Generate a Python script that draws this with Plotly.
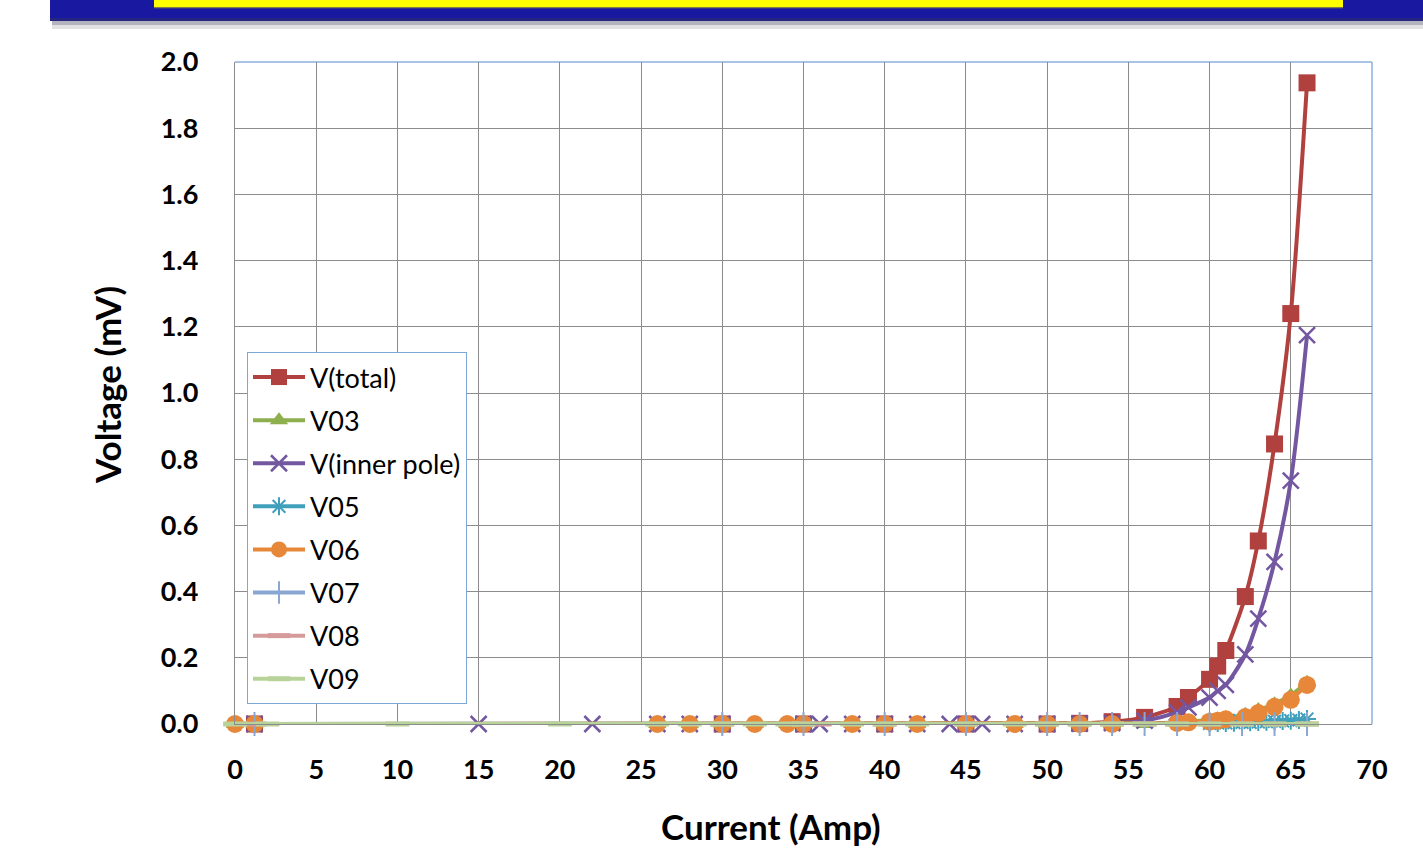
import plotly.graph_objects as go

# ---------------- data ----------------
x_total = [1.2, 30, 35, 40, 45, 50, 52, 54, 56, 58, 58.7, 60, 60.5, 61, 62.2, 63, 64, 65, 66]
y_total = [0, 0, 0, 0, 0, 0, 0.002, 0.007, 0.02, 0.053, 0.08, 0.135, 0.175, 0.222, 0.385, 0.553, 0.846, 1.24, 1.937]

x_v03 = [0, 1.2, 26, 28, 30, 32, 34, 35, 38, 40, 42, 45, 48, 50, 52, 54, 56, 58, 58.7, 60, 60.5, 61, 62.2, 63, 64, 65, 66]
y_v03 = [0, 0, 0, 0, 0, 0, 0, 0, 0, 0, 0, 0, 0, 0, 0, 0, 0, 0.005, 0.007, 0.01, 0.014, 0.018, 0.028, 0.042, 0.06, 0.086, 0.125]

x_inner = [1.2, 15, 22, 26, 28, 30, 35, 36, 38, 40, 42, 44, 45, 46, 48, 50, 52, 54, 56, 58, 58.7, 60, 60.5, 61, 62.2, 63, 64, 65, 66]
y_inner = [0, 0, 0, 0, 0, 0, 0, 0, 0, 0, 0, 0, 0, 0, 0, 0, 0.001, 0.003, 0.01, 0.035, 0.05, 0.08, 0.1, 0.118, 0.21, 0.318, 0.49, 0.735, 1.175]

x_v05 = [1.2, 30, 35, 40, 45, 50, 60, 60.5, 61, 61.5, 62, 62.5, 63, 63.5, 64, 64.5, 65, 65.5, 66]
y_v05 = [0, 0, 0, 0, 0, 0, 0.002, 0.003, 0.003, 0.004, 0.005, 0.005, 0.006, 0.007, 0.008, 0.009, 0.01, 0.012, 0.015]

x_v06 = [0, 1.2, 26, 28, 30, 32, 34, 35, 38, 40, 42, 45, 48, 50, 52, 54, 58, 58.7, 60, 60.5, 61, 62.2, 63, 64, 65, 66]
y_v06 = [0, 0, 0, 0, 0, 0, 0, 0, 0, 0, 0, 0, 0, 0, 0, 0, 0.003, 0.005, 0.007, 0.01, 0.014, 0.021, 0.033, 0.052, 0.073, 0.118]

x_v07 = [1.2, 30, 35, 40, 45, 50, 52, 54, 56, 58, 60, 62, 64, 66]
y_v07 = [0, 0, 0, 0, 0, 0, 0, 0, 0, 0, 0, 0, 0, 0]

x_v08 = [1.2, 30, 35, 36, 40, 45, 50, 52, 54, 56, 58, 60, 62, 64, 66]
y_v08 = [0, 0, 0, 0, 0, 0, 0, 0, 0, 0, 0, 0, 0, 0, 0]

x_v09 = [0, 2, 10, 20, 26, 28, 30, 32, 34, 35, 38, 40, 42, 45, 48, 50, 52, 54, 56, 58, 60, 62, 64, 66]
y_v09 = [0, 0, 0, 0, 0, 0, 0, 0, 0, 0, 0, 0, 0, 0, 0, 0, 0, 0, 0, 0, 0, 0, 0, 0]

x_ticks = [0, 5, 10, 15, 20, 25, 30, 35, 40, 45, 50, 55, 60, 65, 70]
y_ticks = [0.0, 0.2, 0.4, 0.6, 0.8, 1.0, 1.2, 1.4, 1.6, 1.8, 2.0]

# ---------------- figure ----------------
W, H = 1423, 851
L, R, T, B = 235, 1372, 62, 724

fig = go.Figure()

def add(name, xs, ys, color, symbol, size, lw=4, mline=None, mlw=0, shape="linear"):
    fig.add_trace(go.Scatter(
        x=xs, y=ys, name=name, mode="lines+markers",
        line=dict(color=color, width=lw, shape=shape, smoothing=0.8 if shape == "spline" else None),
        marker=dict(symbol=symbol, size=size, color=color,
                    line=dict(color=mline or color, width=mlw)),
        cliponaxis=False, legendgroup=name,
    ))

add("V(total)", x_total, y_total, "#B0413E", "square", 17, shape="spline")
add("V03", x_v03, y_v03, "#8DAF4E", "triangle-up", 16)
add("V(inner pole)", x_inner, y_inner, "#7357A0", "x-thin-open", 16, mline="#7357A0", mlw=2.5, shape="spline")
add("V05", x_v05, y_v05, "#40A0BC", "asterisk-open", 15, mline="#40A0BC", mlw=2)
add("V06", x_v06, y_v06, "#E6873A", "circle", 18)
add("V07", x_v07, y_v07, "#8AA6D2", "cross-thin-open", 17, mline="#8AA6D2", mlw=2)
add("V08", x_v08, y_v08, "#D69A9A", "line-ew-open", 17, mline="#D69A9A", mlw=5)
add("V09", x_v09, y_v09, "#B8D39A", "line-ew-open", 17, mline="#B8D39A", mlw=5)

def px_x(p):
    return (p - L) / (R - L)

def px_y(p):
    return (B - p) / (B - T)

shapes = [
    dict(type="line", xref="paper", yref="paper", x0=0, x1=1, y0=1, y1=1,
         line=dict(color="#8EB1DE", width=1.5), layer="between"),
    dict(type="line", xref="paper", yref="paper", x0=1, x1=1, y0=0, y1=1,
         line=dict(color="#8EB1DE", width=1.5), layer="between"),
    dict(type="rect", xref="paper", yref="paper", x0=px_x(52), x1=px_x(1423), y0=px_y(29), y1=px_y(20),
         fillcolor="#e2e2e2", line=dict(width=0), layer="above"),
    dict(type="rect", xref="paper", yref="paper", x0=px_x(52), x1=px_x(1423), y0=px_y(25), y1=px_y(20),
         fillcolor="#b4b4c0", line=dict(width=0), layer="above"),
    dict(type="rect", xref="paper", yref="paper", x0=px_x(50), x1=px_x(1423), y0=px_y(21), y1=px_y(0),
         fillcolor="#1818A0", line=dict(width=0), layer="above"),
    dict(type="rect", xref="paper", yref="paper", x0=px_x(50), x1=px_x(1423), y0=px_y(21), y1=px_y(18),
         fillcolor="#262680", line=dict(width=0), layer="above"),
    dict(type="rect", xref="paper", yref="paper", x0=px_x(154), x1=px_x(1343), y0=px_y(7.3), y1=px_y(0),
         fillcolor="#FFFF00", line=dict(width=0), layer="above"),
    dict(type="rect", xref="paper", yref="paper", x0=px_x(154), x1=px_x(1343), y0=px_y(8.3), y1=px_y(7.3),
         fillcolor="#8a8a40", line=dict(width=0), layer="above"),
]

annotations = [
    dict(text="<b>Current (Amp)</b>", xref="paper", yref="paper", x=px_x(771), y=px_y(826),
         xanchor="center", yanchor="middle", showarrow=False,
         font=dict(family="Lato", size=35, color="#000")),
    dict(text="<b>Voltage (mV)</b>", xref="paper", yref="paper", x=px_x(107), y=px_y(385),
         xanchor="center", yanchor="middle", showarrow=False, textangle=-90,
         font=dict(family="Lato", size=35, color="#000")),
]

fig.update_layout(
    width=W, height=H,
    margin=dict(l=L, r=W - R, t=T, b=H - B, pad=0),
    paper_bgcolor="white", plot_bgcolor="white",
    font=dict(family="Lato, Open Sans, sans-serif", color="#000000"),
    xaxis=dict(
        range=[0, 70], tickvals=x_ticks, ticktext=[f"<b>{v}</b>" for v in x_ticks],
        showgrid=True, gridcolor="#8C8C8C", gridwidth=1.3,
        showline=True, linecolor="#8C8C8C", linewidth=1.3,
        zeroline=False, ticks="", ticklabelstandoff=21,
        tickfont=dict(family="Lato", size=27, color="#000"),
    ),
    yaxis=dict(
        range=[0, 2.0], tickvals=y_ticks, ticktext=[f"<b>{v:.1f}</b>" for v in y_ticks],
        showgrid=True, gridcolor="#8C8C8C", gridwidth=1.3,
        showline=True, linecolor="#8C8C8C", linewidth=1.3,
        zeroline=False, ticks="", ticklabelstandoff=30,
        tickfont=dict(family="Lato", size=27, color="#000"),
    ),
    legend=dict(
        x=px_x(247), y=px_y(352), xanchor="left", yanchor="top",
        bgcolor="white", bordercolor="#7EA6D8", borderwidth=1,
        font=dict(family="Lato", size=27, color="#000"),
        tracegroupgap=5, itemwidth=52, traceorder="grouped",
    ),
    shapes=shapes,
    annotations=annotations,
)

fig.write_html("out.html")
